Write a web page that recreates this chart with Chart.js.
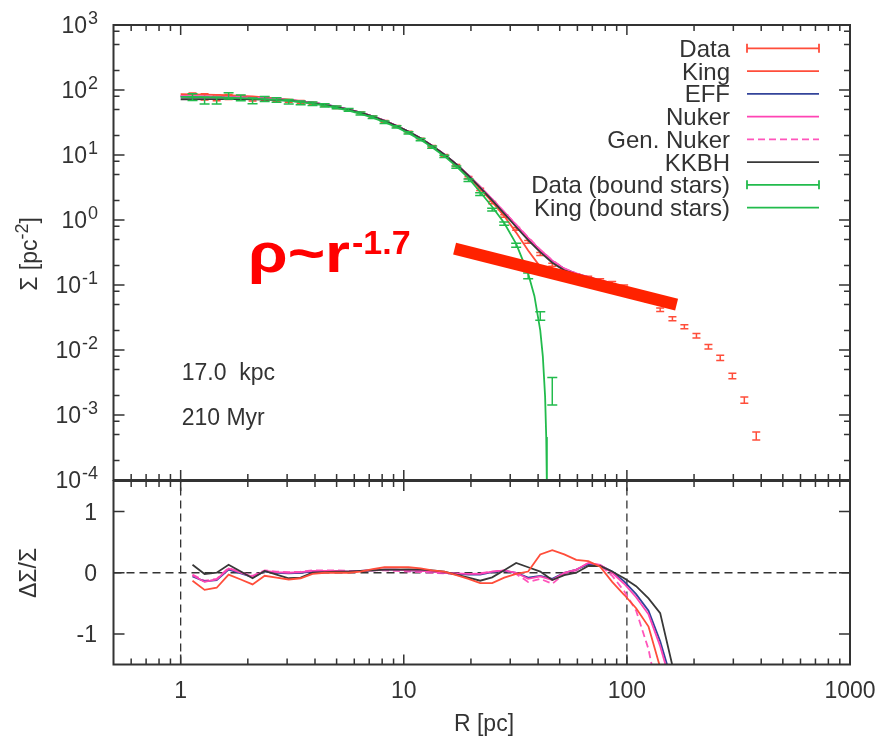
<!DOCTYPE html>
<html>
<head>
<meta charset="utf-8">
<title>Surface density profile</title>
<script src="https://cdn.jsdelivr.net/npm/chart.js@4.4.1/dist/chart.umd.min.js"></script>
<style>
  html, body { margin: 0; padding: 0; background: #fff; }
  #wrap { position: relative; width: 881px; height: 742px; }
  #wrap canvas { position: absolute; left: 0; top: 0; }
</style>
</head>
<body>
<div id="wrap">
  <canvas id="profile" width="881" height="742"></canvas>
  <canvas id="residual" width="881" height="742"></canvas>
</div>
<script>
// ---- data ----

// radial bins [pc] of the measured profile (all stars)
const dataR = [1.13, 1.28, 1.45, 1.64, 1.86, 2.10, 2.38, 2.69, 3.05, 3.45, 3.90, 4.42, 5.00, 5.66, 6.40, 7.25,
  8.20, 9.28, 10.5, 11.9, 13.4, 15.2, 17.2, 19.5, 22.0, 24.9, 28.2, 31.9, 36.1, 40.9, 46.3, 52.4,
  59.3, 67.1, 75.9, 85.9, 97.2, 110, 125, 141, 160, 181, 205, 232, 262, 297, 336, 380];
const dataSigma = [80.5, 79.0, 76.0, 78.5, 76.5, 73.0, 73.5, 70.0, 68.0, 65.5, 62.5, 58.5, 54.0, 49.5, 44.5, 38.8,
  33.0, 27.5, 22.5, 17.6, 13.6, 9.9, 6.9, 4.5, 2.95, 1.85, 1.15, 0.73, 0.46, 0.30, 0.205, 0.16,
  0.142, 0.13, 0.119, 0.108, 0.095, 0.078, 0.058, 0.0417, 0.0303, 0.0228, 0.0166, 0.01125, 0.0076, 0.0040, 0.0017, 0.00048];
const dataErr = [0.12, 0.11, 0.10, 0.09, 0.08, 0.07, 0.06, 0.06, 0.05, 0.05, 0.04, 0.04, 0.04, 0.035, 0.035, 0.03,
  0.03, 0.03, 0.03, 0.03, 0.03, 0.03, 0.035, 0.035, 0.04, 0.04, 0.045, 0.05, 0.05, 0.05, 0.05, 0.05,
  0.05, 0.05, 0.05, 0.05, 0.05, 0.05, 0.05, 0.06, 0.07, 0.07, 0.08, 0.08, 0.09, 0.10, 0.11, 0.14];

// bound stars only
const boundR = [1.13, 1.28, 1.45, 1.64, 1.86, 2.10, 2.38, 2.69, 3.05, 3.45, 3.90, 4.42, 5.00, 5.66, 6.40, 7.25,
  8.20, 9.28, 10.5, 11.9, 13.4, 15.2, 17.2, 19.5, 22.0, 24.9, 28.2, 31.9, 36.1, 40.9, 46.3];
const boundSigma = [78, 69, 69, 82, 76, 68.5, 73, 70.5, 66, 63.5, 61.5, 58, 54, 49.5, 43.5, 38,
  32, 27, 22, 17.2, 13.2, 9.5, 6.5, 4.1, 2.5, 1.45, 0.88, 0.41, 0.139, 0.0337, 0.0026];
const boundErr = [0.12, 0.12, 0.12, 0.11, 0.10, 0.10, 0.09, 0.08, 0.08, 0.07, 0.06, 0.06, 0.05, 0.05, 0.05, 0.045,
  0.045, 0.04, 0.04, 0.04, 0.04, 0.04, 0.04, 0.045, 0.05, 0.05, 0.06, 0.07, 0.10, 0.15, 0.45];

// King fit to the bound stars
const kingBoundR = [1.0, 1.13, 1.28, 1.45, 1.64, 1.86, 2.10, 2.38, 2.69, 3.05, 3.45, 3.90, 4.42, 5.00, 5.66, 6.40,
  7.25, 8.20, 9.28, 10.5, 11.9, 13.4, 15.2, 17.2, 19.5, 22.0, 24.9, 28.2, 31.9, 36.1, 38.5, 40.9,
  42.0, 43.0, 43.5, 43.8, 44.0];
const kingBoundSigma = [78.5, 78.1, 77.6, 76.9, 76.1, 75.0, 73.8, 72.2, 70.3, 68.0, 65.3, 61.5, 57.6, 53.1, 48.2, 43.0,
  37.5, 32.0, 26.7, 21.7, 17.1, 13.2, 9.6, 6.7, 4.4, 2.7, 1.6, 0.9, 0.43, 0.15, 0.068, 0.02,
  0.008, 0.0019, 0.00046, 0.000072, 0.000001];

// fits to all stars
const fitR = [1.0, 1.13, 1.28, 1.45, 1.64, 1.86, 2.10, 2.38, 2.69, 3.05, 3.45, 3.90, 4.42, 5.00, 5.66, 6.40,
  7.25, 8.20, 9.28, 10.5, 11.9, 13.4, 15.2, 17.2, 19.5, 22.0, 24.9, 28.2, 31.9, 36.1, 40.9, 46.3,
  52.4, 59.3, 67.1, 75.9, 85.9, 97.2, 110, 125, 141, 160];
const kingFit = [86, 85.5, 85, 84, 83, 81.5, 79.5, 77, 74.2, 71, 67.6, 63.8, 59.6, 55, 50, 44.8,
  39.2, 33.5, 27.9, 22.7, 17.9, 13.7, 10.0, 7.0, 4.65, 3.0, 1.9, 1.15, 0.64, 0.34, 0.19, 0.135,
  0.128, 0.12, 0.112, 0.105, 0.098, 0.09, 0.08, 0.072, 0.066, 0.058];
const effFit = [79.5, 79.2, 78.8, 78.2, 77.5, 76.6, 75.5, 74.0, 72.2, 70.0, 67.2, 63.9, 59.9, 55.3, 50.3, 45.0,
  39.4, 33.8, 28.2, 23.0, 18.1, 13.9, 10.2, 7.2, 4.85, 3.2, 2.05, 1.3, 0.82, 0.52, 0.34, 0.235,
  0.178, 0.15, 0.132, 0.118, 0.105, 0.092, 0.081, 0.073, 0.066, 0.058];
const nukerFit = [80, 79.6, 79.1, 78.4, 77.6, 76.7, 75.5, 74.0, 72.2, 69.9, 67.1, 63.8, 59.8, 55.2, 50.2, 44.9,
  39.3, 33.7, 28.1, 22.9, 18.1, 13.9, 10.2, 7.2, 4.9, 3.25, 2.1, 1.33, 0.84, 0.53, 0.345, 0.237,
  0.178, 0.15, 0.132, 0.118, 0.105, 0.092, 0.081, 0.073, 0.066, 0.058];
const genNukerFit = [81, 80.5, 79.8, 79, 78, 77, 75.7, 74.1, 72.2, 69.9, 67.1, 63.8, 59.8, 55.2, 50.2, 44.9,
  39.3, 33.7, 28.1, 22.9, 18.1, 13.9, 10.2, 7.2, 4.9, 3.25, 2.1, 1.33, 0.85, 0.54, 0.35, 0.24,
  0.18, 0.151, 0.133, 0.119, 0.106, 0.093, 0.082, 0.074, 0.067, 0.059];
const kkbhFit = [72, 72, 72.2, 72.4, 72.5, 72.4, 72, 71.3, 70.2, 68.4, 65.9, 62.8, 59.0, 54.7, 49.9, 44.7,
  39.2, 33.6, 28.1, 22.9, 18.1, 13.9, 10.2, 7.2, 4.8, 3.15, 2.0, 1.25, 0.78, 0.49, 0.32, 0.22,
  0.168, 0.145, 0.13, 0.117, 0.104, 0.09, 0.08, 0.072, 0.066, 0.058];

// power-law guide drawn over the profile
const slopeR = [16.9, 167];
const slopeSigma = [0.362, 0.0498];

// residuals ΔΣ/Σ of each fit
const resR = [1.13, 1.28, 1.45, 1.64, 1.86, 2.10, 2.38, 2.69, 3.05, 3.45, 3.90, 4.42, 5.00, 5.66, 6.40, 7.25,
  8.20, 9.28, 10.5, 11.9, 13.4, 15.2, 17.2, 19.5, 22.0, 24.9, 28.2, 31.9, 36.1, 40.9, 46.3, 52.4,
  59.3, 67.1, 75.9, 85.9, 97.2, 110, 125, 141, 160];
const resKing = [-0.13, -0.28, -0.245, -0.03, -0.11, -0.19, -0.05, -0.08, -0.11, -0.09, -0.02, 0.0, 0.0, 0.0, 0.02, 0.06,
  0.09, 0.09, 0.09, 0.07, 0.04, 0.02, -0.04, -0.10, -0.17, -0.17, -0.08, -0.02, 0.02, 0.30, 0.37, 0.30,
  0.21, 0.19, 0.10, -0.15, -0.36, -0.58, -0.88, -1.55, -2.4];
const resEff = [-0.06, -0.14, -0.12, 0.05, -0.01, -0.07, 0.02, 0.0, -0.01, 0.0, 0.02, 0.02, 0.02, 0.02, 0.03, 0.04,
  0.05, 0.05, 0.04, 0.03, 0.02, 0.0, -0.02, -0.03, -0.03, 0.01, 0.03, 0.0, -0.08, -0.05, -0.10, 0.0,
  0.05, 0.14, 0.12, 0.02, -0.14, -0.35, -0.62, -1.12, -1.8];
const resNuker = [-0.04, -0.15, -0.11, 0.07, 0.0, -0.065, 0.03, 0.01, 0.0, 0.01, 0.03, 0.03, 0.03, 0.02, 0.03, 0.04,
  0.05, 0.05, 0.04, 0.03, 0.02, 0.0, -0.01, -0.02, -0.02, 0.02, 0.04, 0.0, -0.10, -0.06, -0.12, 0.0,
  0.05, 0.16, 0.13, 0.0, -0.18, -0.40, -0.68, -1.2, -1.9];
const resGenNuker = [-0.03, -0.13, -0.10, 0.08, 0.01, -0.05, 0.04, 0.02, 0.01, 0.02, 0.04, 0.04, 0.04, 0.03, 0.03, 0.04,
  0.04, 0.03, 0.02, 0.01, 0.0, -0.01, -0.02, -0.02, -0.01, 0.02, 0.04, -0.02, -0.15, -0.10, -0.18, -0.02,
  0.04, 0.16, 0.12, -0.05, -0.30, -0.62, -1.25, -2.2, -3.0];
const resKkbh = [0.13, -0.02, 0.0, 0.13, 0.02, -0.09, 0.03, -0.03, -0.09, -0.08, 0.0, 0.01, 0.02, 0.02, 0.03, 0.04,
  0.05, 0.05, 0.055, 0.05, 0.04, 0.02, -0.03, -0.08, -0.13, -0.075, 0.04, 0.16, 0.09, 0.02, -0.12, -0.04,
  0.0, 0.11, 0.11, 0.02, -0.09, -0.22, -0.42, -0.66, -1.52];

// reference lines in the residual panel
const zeroLineR = [0.5, 1000];
const guideR = [1, 100];
const residualRange = [-1.5, 1.5];

// axes
const xMajorTicks = [1, 10, 100, 1000];
const xTickLabels = ['1', '10', '100', '1000'];
const xMinorFactors = [2, 3, 4, 5, 6, 7, 8, 9];
const sigmaExponents = [-4, -3, -2, -1, 0, 1, 2, 3];
const sigmaMinorFactors = [2, 5, 8];
const residualTicks = [-1, 0, 1];
const residualTickLabels = ['-1', '0', '1'];

// ---- styling ----
const FONT = '"Liberation Sans", Arial, Helvetica, sans-serif';
const INK = '#333333';
const RED = '#ff4d3a';
const GREEN = '#22bb4c';

const pts = (xs, ys) => xs.map((x, i) => ({ x, y: ys[i] }));

const xMinorTicks = [0.1, 1, 10, 100].flatMap(d => xMinorFactors.map(f => f * d)).filter(v => v > 0.5 && v < 1000);
const sigmaMajorTicks = sigmaExponents.map(e => Math.pow(10, e));
const sigmaMinorTicks = sigmaMajorTicks.slice(0, -1).flatMap(d => sigmaMinorFactors.map(f => f * d));

const lineStyle = (color, order, extra) => Object.assign({
  borderColor: color, backgroundColor: color, borderWidth: 1.8,
  pointRadius: 0, fill: false, tension: 0, order,
}, extra || {});

// error bars drawn right after their own dataset so layering matches
const errorBarPlugin = {
  id: 'errorBars',
  afterDatasetDraw(chart, args) {
    const ds = chart.data.datasets[args.index];
    if (!ds.errRel) return;
    const { ctx, chartArea: a, scales: { x, y } } = chart;
    ctx.save();
    ctx.beginPath();
    ctx.rect(a.left, a.top, a.right - a.left, a.bottom - a.top);
    ctx.clip();
    ctx.strokeStyle = ds.borderColor;
    ctx.lineWidth = 1.5;
    ctx.beginPath();
    ds.data.forEach((p, i) => {
      const px = x.getPixelForValue(p.x);
      const hi = y.getPixelForValue(p.y * (1 + ds.errRel[i]));
      const lo = y.getPixelForValue(p.y * (1 - ds.errRel[i]));
      const c = ds.capHalf;
      ctx.moveTo(px, hi); ctx.lineTo(px, lo);
      ctx.moveTo(px - c, hi); ctx.lineTo(px + c, hi);
      ctx.moveTo(px - c, lo); ctx.lineTo(px + c, lo);
    });
    ctx.stroke();
    ctx.restore();
  }
};

// gnuplot-like frame with inward ticks on all four sides
function drawFrame(chart, yMajor, yMinor) {
  const { ctx, chartArea: a, scales: { x, y } } = chart;
  ctx.save();
  ctx.strokeStyle = INK;
  ctx.lineWidth = 1.5;
  ctx.beginPath();
  const seg = (x0, y0, x1, y1) => { ctx.moveTo(x0, y0); ctx.lineTo(x1, y1); };
  xMajorTicks.forEach(v => {
    const px = x.getPixelForValue(v);
    seg(px, a.top, px, a.top + 10); seg(px, a.bottom, px, a.bottom - 10);
  });
  xMinorTicks.forEach(v => {
    const px = x.getPixelForValue(v);
    seg(px, a.top, px, a.top + 6); seg(px, a.bottom, px, a.bottom - 6);
  });
  yMajor.forEach(v => {
    const py = y.getPixelForValue(v);
    seg(a.left, py, a.left + 11, py); seg(a.right, py, a.right - 11, py);
  });
  yMinor.forEach(v => {
    const py = y.getPixelForValue(v);
    seg(a.left, py, a.left + 6, py); seg(a.right, py, a.right - 6, py);
  });
  ctx.stroke();
  ctx.lineWidth = 2;
  ctx.strokeRect(a.left, a.top, a.right - a.left, a.bottom - a.top);
  ctx.restore();
}

const profileDecor = {
  id: 'profileDecor',
  afterDraw(chart) {
    const { ctx, scales: { x, y } } = chart;
    drawFrame(chart, sigmaMajorTicks, sigmaMinorTicks);
    ctx.save();
    ctx.fillStyle = INK;

    // y tick labels 10^n
    sigmaExponents.forEach(e => {
      const py = y.getPixelForValue(Math.pow(10, e));
      ctx.textAlign = 'right';
      ctx.font = '18px ' + FONT;
      const sup = String(e);
      const supW = ctx.measureText(sup).width;
      ctx.fillText(sup, 98, py - 0.8);
      ctx.font = '23px ' + FONT;
      ctx.fillText('10', 98 - supW - 1, py + 8.2);
    });

    // y axis title Σ [pc^-2]
    ctx.save();
    ctx.translate(37, 254);
    ctx.rotate(-Math.PI / 2);
    ctx.textAlign = 'left';
    ctx.font = '23px ' + FONT;
    const t1 = 'Σ [pc', t3 = ']';
    const w1 = ctx.measureText(t1).width, w3 = ctx.measureText(t3).width;
    ctx.font = '18px ' + FONT;
    const w2 = ctx.measureText('-2').width;
    let sx = -(w1 + w2 + w3) / 2;
    ctx.font = '23px ' + FONT;
    ctx.fillText(t1, sx, 0);
    ctx.font = '18px ' + FONT;
    ctx.fillText('-2', sx + w1, -9);
    ctx.font = '23px ' + FONT;
    ctx.fillText(t3, sx + w1 + w2, 0);
    ctx.restore();

    // run info
    ctx.textAlign = 'left';
    ctx.font = '23px ' + FONT;
    const infoX = x.getPixelForValue(1) + 1;
    ctx.fillText('17.0  kpc', infoX, 380);
    ctx.fillText('210 Myr', infoX, 425);

    // slope annotation
    ctx.fillStyle = '#ff0000';
    ctx.font = 'bold 56px ' + FONT;
    const mw = ctx.measureText('ρ~r').width;
    ctx.save();
    ctx.translate(248, 272);
    ctx.scale(102 / mw, 1);
    ctx.fillText('ρ~r', 0, 0);
    ctx.restore();
    ctx.font = 'bold 34px ' + FONT;
    ctx.fillText('-1.7', 352, 254);

    // key
    ctx.font = '24px ' + FONT;
    ctx.textAlign = 'right';
    const keyed = chart.data.datasets.filter(d => d.label);
    keyed.forEach((d, i) => {
      const ky = 48.3 + i * 22.75;
      ctx.fillStyle = INK;
      ctx.fillText(d.label, 730, ky + 8.5);
      ctx.strokeStyle = d.borderColor;
      ctx.lineWidth = 1.8;
      ctx.setLineDash(d.borderDash || []);
      ctx.beginPath();
      ctx.moveTo(747, ky); ctx.lineTo(819, ky);
      ctx.stroke();
      ctx.setLineDash([]);
      if (d.errRel) {
        ctx.beginPath();
        ctx.moveTo(747, ky - 4.5); ctx.lineTo(747, ky + 4.5);
        ctx.moveTo(819, ky - 4.5); ctx.lineTo(819, ky + 4.5);
        ctx.stroke();
      }
    });
    ctx.restore();
  }
};

const residualDecor = {
  id: 'residualDecor',
  afterDraw(chart) {
    const { ctx, scales: { x, y } } = chart;
    drawFrame(chart, residualTicks, []);
    ctx.save();
    ctx.fillStyle = INK;
    ctx.font = '23px ' + FONT;

    ctx.textAlign = 'center';
    xMajorTicks.forEach((v, i) => ctx.fillText(xTickLabels[i], x.getPixelForValue(v), 698));

    ctx.textAlign = 'right';
    residualTicks.forEach((v, i) => ctx.fillText(residualTickLabels[i], 97, y.getPixelForValue(v) + 8.2));

    ctx.textAlign = 'center';
    ctx.fillText('R [pc]', 484, 731);

    ctx.save();
    ctx.translate(36, 573);
    ctx.rotate(-Math.PI / 2);
    ctx.fillText('ΔΣ/Σ', 0, 0);
    ctx.restore();
    ctx.restore();
  }
};

const logX = { type: 'logarithmic', min: 0.5, max: 1000, display: false };
const baseOptions = (padding, yScale) => ({
  responsive: false,
  animation: false,
  events: [],
  layout: { padding },
  plugins: { legend: { display: false }, tooltip: { enabled: false } },
  scales: { x: logX, y: yScale },
});

// ---- upper panel: surface density ----
new Chart(document.getElementById('profile'), {
  type: 'line',
  data: {
    datasets: [
      lineStyle('#ff2200', 0, { data: pts(slopeR, slopeSigma), borderWidth: 12, borderCapStyle: 'butt' }),
      lineStyle(RED, 8, { label: 'Data', data: pts(dataR, dataSigma), showLine: false, errRel: dataErr, capHalf: 4 }),
      lineStyle(RED, 7, { label: 'King', data: pts(fitR, kingFit) }),
      lineStyle('#33449a', 6, { label: 'EFF', data: pts(fitR, effFit) }),
      lineStyle('#ff44b4', 5, { label: 'Nuker', data: pts(fitR, nukerFit) }),
      lineStyle('#ff55bb', 4, { label: 'Gen. Nuker', data: pts(fitR, genNukerFit), borderDash: [7, 4] }),
      lineStyle('#383838', 3, { label: 'KKBH', data: pts(fitR, kkbhFit) }),
      lineStyle(GREEN, 2, { label: 'Data (bound stars)', data: pts(boundR, boundSigma), showLine: false, errRel: boundErr, capHalf: 5 }),
      lineStyle(GREEN, 1, { label: 'King (bound stars)', data: pts(kingBoundR, kingBoundSigma) }),
    ],
  },
  options: baseOptions({ left: 113.5, top: 25, right: 31, bottom: 262 },
    { type: 'logarithmic', min: 1e-4, max: 1e3, display: false }),
  plugins: [errorBarPlugin, profileDecor],
});

// ---- lower panel: residuals ----
const dashed = (data) => ({
  data, borderColor: INK, borderWidth: 1.3, borderDash: [8, 5], pointRadius: 0, fill: false, order: 9,
});
new Chart(document.getElementById('residual'), {
  type: 'line',
  data: {
    datasets: [
      dashed(pts(zeroLineR, [0, 0])),
      dashed(pts([guideR[0], guideR[0]], residualRange)),
      dashed(pts([guideR[1], guideR[1]], residualRange)),
      lineStyle(RED, 1, { data: pts(resR, resKing) }),
      lineStyle('#33449a', 4, { data: pts(resR, resEff) }),
      lineStyle('#ff44b4', 3, { data: pts(resR, resNuker) }),
      lineStyle('#ff55bb', 5, { data: pts(resR, resGenNuker), borderDash: [7, 4] }),
      lineStyle('#383838', 2, { data: pts(resR, resKkbh) }),
    ],
  },
  options: baseOptions({ left: 113.5, top: 481, right: 31, bottom: 77.5 },
    { type: 'linear', min: residualRange[0], max: residualRange[1], display: false }),
  plugins: [residualDecor],
});
</script>
</body>
</html>
